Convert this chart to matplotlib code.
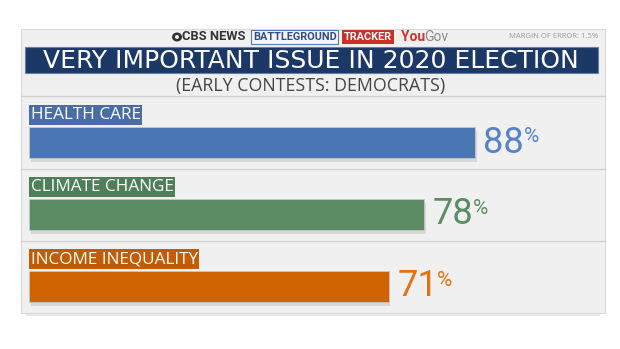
import matplotlib
import matplotlib.pyplot as plt
from matplotlib.patches import Rectangle, Ellipse

matplotlib.use('Agg')
plt.rcParams['font.family'] = ['Open Sans', 'DejaVu Sans']

# data
issues = ["HEALTH CARE", "CLIMATE CHANGE", "INCOME INEQUALITY"]
shares = [88, 78, 71]
bar_colors = ["#4a76b4", "#5b8c63", "#d06400"]
label_colors = ["#4a6da5", "#4f7f58", "#c35c00"]
pct_colors = ["#5582c8", "#5b8c63", "#e27212"]

title = "VERY IMPORTANT ISSUE IN 2020 ELECTION"
subtitle = "(EARLY CONTESTS: DEMOCRATS)"
margin_note = "MARGIN OF ERROR: 1.5%"

W, H = 620, 349
fig = plt.figure(figsize=(W / 100, H / 100), dpi=100)
fig.patch.set_facecolor("white")

# background / frame in pixel coordinates
bg = fig.add_axes([0, 0, 1, 1], zorder=0)
bg.set_xlim(0, W)
bg.set_ylim(H, 0)
bg.axis("off")

# panel shadow + panel
bg.add_patch(Rectangle((26, 306), 574, 10, facecolor="#e8e8e8", edgecolor="none"))
bg.add_patch(Rectangle((21, 29), 584, 284, facecolor="#f0f0f0", edgecolor="#dadada", lw=0.8))
for yy in [96, 169, 241]:
    bg.plot([21, 605], [yy, yy], color="#d2d2d2", lw=1)

# header logos
bg.add_patch(Ellipse((177, 37), 10, 9, facecolor="#333333", edgecolor="none"))
bg.add_patch(Ellipse((177, 37), 4, 4, facecolor="#f0f0f0", edgecolor="none"))
bg.text(182, 37, "CBS NEWS", fontsize=9.3, color="#333333", va="center", ha="left",
        family=["Roboto", "DejaVu Sans"], fontweight="bold")
bg.text(253, 37, "BATTLEGROUND", fontsize=7.8, color="#2d4f86", va="center", ha="left",
        family=["Roboto", "DejaVu Sans"], fontweight="bold",
        bbox=dict(boxstyle="square,pad=0.15", facecolor="#f4f4f4", edgecolor="#5a78a8", lw=0.8))
bg.text(344, 37, "TRACKER", fontsize=7.8, color="white", va="center", ha="left",
        family=["Roboto", "DejaVu Sans"], fontweight="bold",
        bbox=dict(boxstyle="square,pad=0.2", facecolor="#c8302c", edgecolor="none"))
bg.text(401, 37, "You", fontsize=10, color="#d0312d", fontweight="bold", va="center", ha="left",
        family=["Roboto", "DejaVu Sans"])
bg.text(424, 37, "Gov", fontsize=10, color="#8a8a8a", va="center", ha="left",
        family=["Roboto", "DejaVu Sans"])
bg.text(598, 37, margin_note, fontsize=5.5, color="#9a9a9a", va="center", ha="right")

# title band
bg.add_patch(Rectangle((25, 47), 573, 26, facecolor="#1b3866", edgecolor="#6a7fa0", lw=0.8))
bg.text(311, 68.5, title, fontsize=18, color="white", va="baseline", ha="center",
        family=["DejaVu Sans"])
bg.text(311, 86, subtitle, fontsize=12.8, color="#444444", va="center", ha="center")

# bars
ax = fig.add_axes([29 / W, (H - 322.5) / H, 507 / W, 216 / H], zorder=1)
ax.set_xlim(0, 100)
ax.set_ylim(2.5, -0.5)
ax.axis("off")
ax.patch.set_alpha(0)

ypos = list(range(len(issues)))
ax.barh([y + 0.05 for y in ypos], shares, height=0.43, color="#000000", alpha=0.10, left=0.3)
ax.barh(ypos, shares, height=0.43, color=bar_colors, edgecolor="#c8c8c8", lw=0.6)

for y, name, v, lc, pc in zip(ypos, issues, shares, label_colors, pct_colors):
    ax.text(0.3, y - 0.38, name, fontsize=12.3, color="white", va="center", ha="left",
            bbox=dict(boxstyle="square,pad=0.1", facecolor=lc, edgecolor="none"))
    num = ax.annotate(str(v), (v, y), xytext=(6, 0), textcoords="offset points",
                      fontsize=26, color=pc, va="center", ha="left",
                      family=["Roboto", "DejaVu Sans"])
    ax.annotate("%", xy=(1, 0.93), xycoords=num, xytext=(-0.5, 0), textcoords="offset points",
                fontsize=15, color=pc, va="top", ha="left",
                family=["Roboto", "DejaVu Sans"])

fig.savefig("out.png", dpi=100, facecolor="white")
